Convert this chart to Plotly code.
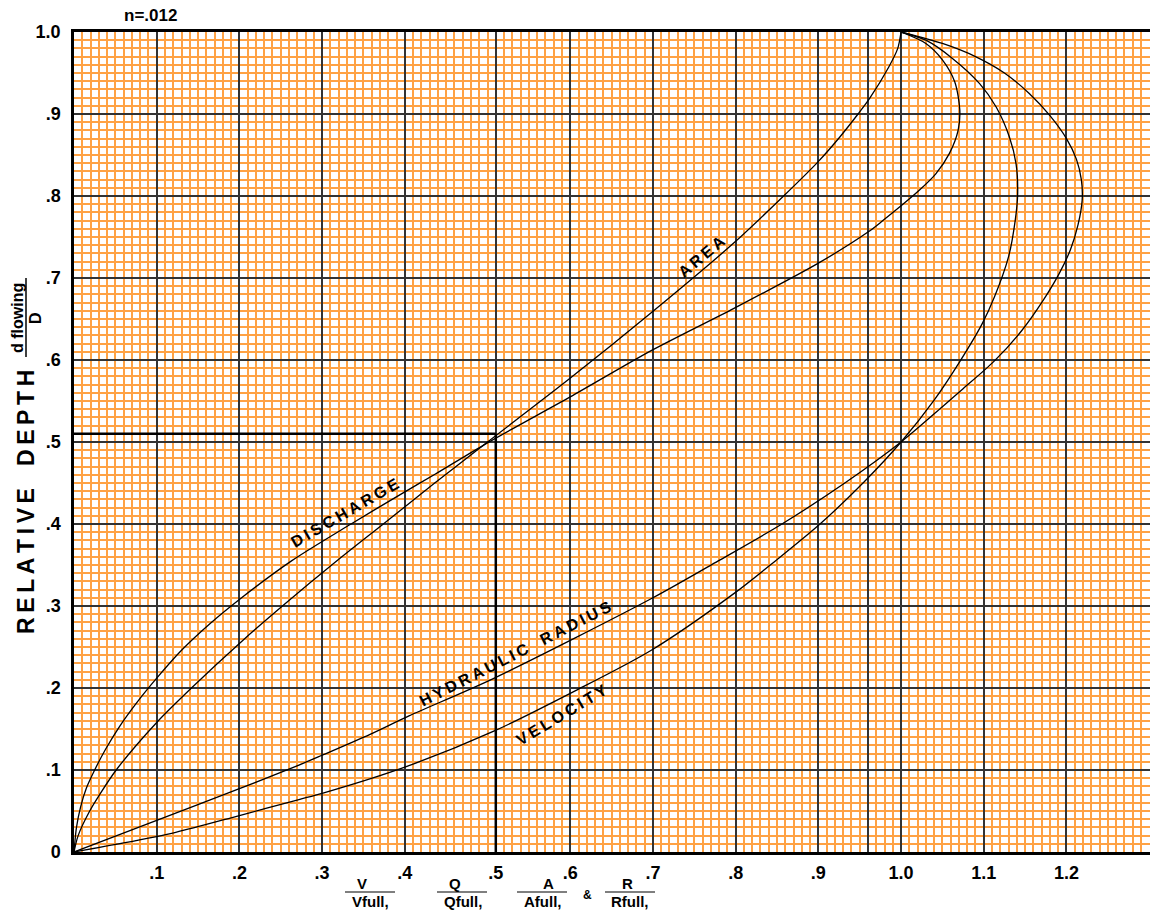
import plotly.graph_objects as go

# ---------------- data ----------------
# relative depth (y) and ratio to full (x) for each curve
area_y = [0, 0.02, 0.05, 0.07, 0.10, 0.158, 0.20, 0.258, 0.30, 0.356, 0.40, 0.449, 0.50,
          0.577, 0.6585, 0.742, 0.80, 0.841, 0.872, 0.90, 0.919, 0.957, 0.98, 1.0]
area_x = [0, 0.005, 0.019, 0.031, 0.051, 0.100, 0.142, 0.204, 0.252, 0.319, 0.374, 0.435, 0.500,
          0.599, 0.699, 0.797, 0.858, 0.899, 0.926, 0.948, 0.962, 0.985, 0.996, 1.0]

discharge_y = [0, 0.030, 0.055, 0.078, 0.100, 0.125, 0.153, 0.181, 0.212, 0.246, 0.279, 0.308,
               0.355, 0.400, 0.438, 0.461, 0.499, 0.555, 0.612, 0.663, 0.7175, 0.756, 0.770,
               0.788, 0.806, 0.827, 0.852, 0.880, 0.905, 0.939, 0.966, 0.986, 1.0]
discharge_x = [0, 0.003, 0.008, 0.015, 0.025, 0.038, 0.055, 0.075, 0.100, 0.130, 0.165, 0.200,
               0.263, 0.335, 0.398, 0.437, 0.500, 0.600, 0.699, 0.798, 0.899, 0.960, 0.978,
               1.000, 1.021, 1.042, 1.0585, 1.069, 1.071, 1.065, 1.050, 1.030, 1.0]

velocity_y = [0, 0.011, 0.024, 0.0445, 0.064, 0.0715, 0.1035, 0.148, 0.195, 0.246, 0.316,
              0.355, 0.40, 0.45, 0.50, 0.551, 0.598, 0.644, 0.677, 0.726, 0.770, 0.803,
              0.8395, 0.872, 0.9085, 0.937, 0.9675, 0.99, 1.0]
velocity_x = [0, 0.060, 0.123, 0.200, 0.272, 0.300, 0.400, 0.509, 0.603, 0.698, 0.799,
              0.848, 0.902, 0.954, 1.0, 1.040, 1.071, 1.098, 1.113, 1.130, 1.138, 1.141,
              1.139, 1.131, 1.115, 1.095, 1.0625, 1.030, 1.0]

hradius_y = [0, 0.0386, 0.0772, 0.106, 0.118, 0.1435, 0.166, 0.2115, 0.31, 0.355, 0.40, 0.45,
             0.50, 0.543, 0.565, 0.598, 0.636, 0.673, 0.705, 0.735, 0.765, 0.795, 0.82,
             0.845, 0.87, 0.898, 0.925, 0.95, 0.97, 0.986, 1.0]
hradius_x = [0, 0.100, 0.200, 0.272, 0.300, 0.358, 0.405, 0.507, 0.700, 0.779, 0.856, 0.932,
             1.0, 1.050, 1.075, 1.112, 1.146, 1.172, 1.191, 1.205, 1.214, 1.219, 1.218,
             1.212, 1.200, 1.180, 1.155, 1.125, 1.090, 1.050, 1.0]

x_tickvals = [0.1, 0.2, 0.3, 0.4, 0.51, 0.6, 0.7, 0.8, 0.9, 0.96, 1.0, 1.1, 1.2]
x_ticktext = [".1", ".2", ".3", ".4", ".5", ".6", ".7", ".8", ".9", "", "1.0", "1.1", "1.2"]
y_tickvals = [0, 0.1, 0.2, 0.3, 0.4, 0.5, 0.6, 0.7, 0.8, 0.9, 1.0]
y_ticktext = ["0", ".1", ".2", ".3", ".4", ".5", ".6", ".7", ".8", ".9", "1.0"]

ref_level = 0.51

FONT = "Liberation Sans, Arial, Helvetica, sans-serif"
ORANGE = "#ffa244"
MAJOR = "#333333"

W, H = 1151, 914
ML, MR, MT, MB = 74, 1, 32, 62
PW, PH = W - ML - MR, H - MT - MB


def px(xp):
    return (xp - ML) / PW


def py(yp):
    return (H - MB - yp) / PH


def spaced(s, gap="\u2009"):
    out = []
    for word in s.split(" "):
        out.append(gap.join(word))
    return (gap + "\u00a0\u00a0" + gap).join(out)


fig = go.Figure()

curves = [
    ("Area", area_x, area_y),
    ("Discharge", discharge_x, discharge_y),
    ("Velocity", velocity_x, velocity_y),
    ("Hydraulic radius", hradius_x, hradius_y),
]
for name, xs, ys in curves:
    fig.add_trace(go.Scatter(
        x=xs, y=ys, mode="lines", name=name, showlegend=False, hoverinfo="skip",
        line=dict(color="black", width=1.3, shape="spline", smoothing=0.8),
    ))

# reference cross lines at 0.51
fig.add_shape(type="line", xref="x", yref="y", x0=0, x1=ref_level, y0=ref_level, y1=ref_level,
              line=dict(color="black", width=2.5), layer="above")
fig.add_shape(type="line", xref="x", yref="y", x0=ref_level, x1=ref_level, y0=0, y1=ref_level,
              line=dict(color="black", width=2.5), layer="above")

annotations = []
# curve labels
lab_font = dict(family=FONT, size=16, color="black", weight="bold")
for text, x, y, ang in [
    ("DISCHARGE", 0.328, 0.414, -30),
    ("AREA", 0.759, 0.726, -40),
    ("HYDRAULIC RADIUS", 0.534, 0.242, -27),
    ("VELOCITY", 0.590, 0.168, -31),
]:
    annotations.append(dict(text=spaced(text), x=x, y=y, xref="x", yref="y", showarrow=False,
                            textangle=ang, font=lab_font, xanchor="center", yanchor="middle"))

# title n=.012
annotations.append(dict(text="n=.012", x=px(150), y=py(16), xref="paper", yref="paper",
                        showarrow=False, font=dict(family=FONT, size=17, color="black", weight="bold"),
                        xanchor="center", yanchor="middle"))

# y-axis title
annotations.append(dict(text=spaced("RELATIVE DEPTH"), x=px(26), y=py(502), xref="paper", yref="paper",
                        showarrow=False, textangle=-90,
                        font=dict(family=FONT, size=23, color="black", weight="bold"),
                        xanchor="center", yanchor="middle"))
annotations.append(dict(text="d flowing", x=px(17), y=py(318), xref="paper", yref="paper",
                        showarrow=False, textangle=-90,
                        font=dict(family=FONT, size=16, color="black", weight="bold"),
                        xanchor="center", yanchor="middle"))
annotations.append(dict(text="D", x=px(35), y=py(318), xref="paper", yref="paper",
                        showarrow=False, textangle=-90,
                        font=dict(family=FONT, size=16, color="black", weight="bold"),
                        xanchor="center", yanchor="middle"))
fig.add_shape(type="line", xref="paper", yref="paper", x0=px(26), x1=px(26), y0=py(278), y1=py(357),
              line=dict(color="black", width=1.5))

# x-axis fraction labels
frac_font = dict(family=FONT, size=15, color="black", weight="bold")
for num, den, cx_num, cx_den, lx0, lx1 in [
    ("V", "Vfull,", 361.7, 370.7, 345, 395),
    ("Q", "Qfull,", 455, 463, 437, 487),
    ("A", "Afull,", 548, 543, 517, 567),
    ("R", "Rfull,", 627, 630, 605, 655),
]:
    annotations.append(dict(text=num, x=px(cx_num), y=py(883), xref="paper", yref="paper",
                            showarrow=False, font=frac_font, xanchor="center", yanchor="middle"))
    annotations.append(dict(text=den, x=px(cx_den), y=py(901), xref="paper", yref="paper",
                            showarrow=False, font=frac_font, xanchor="center", yanchor="middle"))
    fig.add_shape(type="line", xref="paper", yref="paper", x0=px(lx0), x1=px(lx1),
                  y0=py(892), y1=py(892), line=dict(color="black", width=1.2))
annotations.append(dict(text="&", x=px(587), y=py(895), xref="paper", yref="paper",
                        showarrow=False, font=dict(family=FONT, size=12, color="black", weight="bold"),
                        xanchor="center", yanchor="middle"))

tick_font = dict(family=FONT, size=18, color="black", weight="bold")

fig.update_layout(
    width=W, height=H,
    margin=dict(l=ML, r=MR, t=MT, b=MB, autoexpand=False),
    paper_bgcolor="white", plot_bgcolor="white",
    annotations=annotations,
    xaxis=dict(
        range=[0, 1.301], tickmode="array", tickvals=x_tickvals, ticktext=x_ticktext,
        showgrid=True, gridcolor=MAJOR, gridwidth=1.5,
        minor=dict(tickmode="linear", tick0=0, dtick=0.01, showgrid=True,
                   gridcolor=ORANGE, gridwidth=1.5),
        showline=True, linecolor="black", linewidth=2.5, mirror=True,
        zeroline=False, ticks="", tickfont=tick_font, ticklabelstandoff=3,
        automargin=False,
    ),
    yaxis=dict(
        range=[0, 1.0], tickmode="array", tickvals=y_tickvals, ticktext=y_ticktext,
        showgrid=True, gridcolor=MAJOR, gridwidth=1.5,
        minor=dict(tickmode="linear", tick0=0, dtick=0.01, showgrid=True,
                   gridcolor=ORANGE, gridwidth=1.5),
        showline=True, linecolor="black", linewidth=2.5, mirror=False,
        zeroline=False, ticks="", tickfont=tick_font, ticklabelstandoff=7,
        automargin=False,
    ),
)

fig.write_html("out.html", config={"displayModeBar": False},
               post_script="document.body.style.margin='0px';document.body.style.overflow='hidden';")
